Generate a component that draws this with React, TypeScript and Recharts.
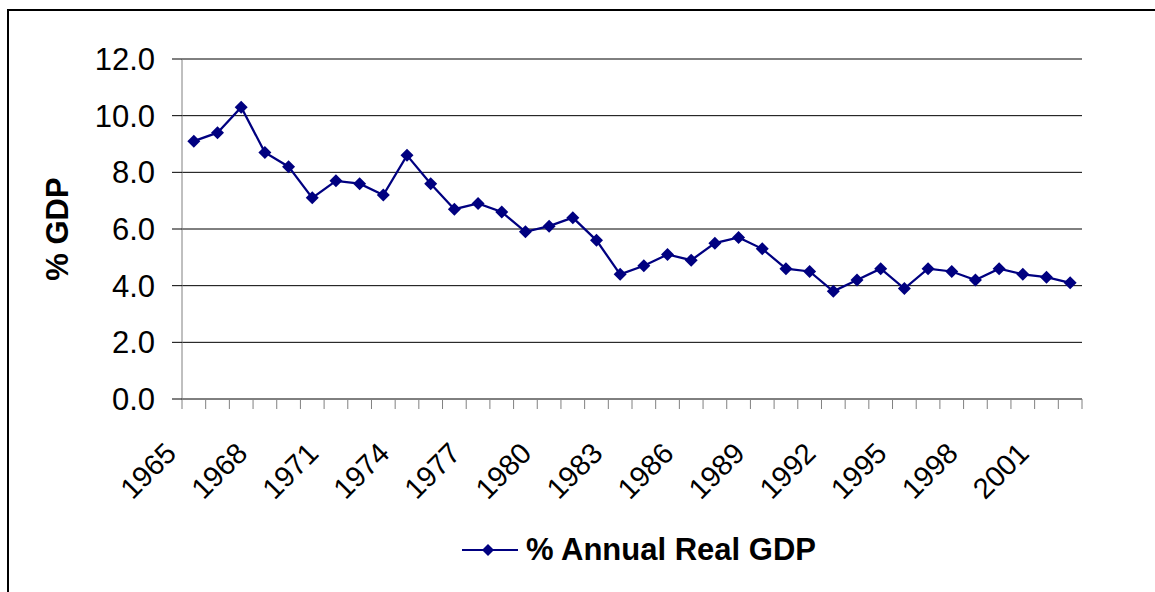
import React from 'react';
import { LineChart, Line, XAxis, YAxis, CartesianGrid, Legend } from 'recharts';

const YEARS = [
  1965, 1966, 1967, 1968, 1969, 1970, 1971, 1972, 1973, 1974,
  1975, 1976, 1977, 1978, 1979, 1980, 1981, 1982, 1983, 1984,
  1985, 1986, 1987, 1988, 1989, 1990, 1991, 1992, 1993, 1994,
  1995, 1996, 1997, 1998, 1999, 2000, 2001, 2002,
];
const GDP_GROWTH = [
  9.1, 9.4, 10.3, 8.7, 8.2, 7.1, 7.7, 7.6, 7.2, 8.6,
  7.6, 6.7, 6.9, 6.6, 5.9, 6.1, 6.4, 5.6, 4.4, 4.7,
  5.1, 4.9, 5.5, 5.7, 5.3, 4.6, 4.5, 3.8, 4.2, 4.6,
  3.9, 4.6, 4.5, 4.2, 4.6, 4.4, 4.3, 4.1,
];
const LABEL_YEARS = [1965, 1968, 1971, 1974, 1977, 1980, 1983, 1986, 1989, 1992, 1995, 1998, 2001];
const Y_TICKS = [0, 2, 4, 6, 8, 10, 12];

const NAVY = '#000080';
const FONT = '"Liberation Sans", Arial, sans-serif';

// categories sit between boundary ticks (Excel style), so x is index + 0.5
const data = YEARS.map((year, i) => ({ year, pos: i + 0.5, gdp: GDP_GROWTH[i] }));
const boundaries = [...YEARS.map((_, i) => i), YEARS.length];

function Diamond(props: any) {
  const { cx, cy } = props;
  if (cx == null || cy == null) return null;
  const r = 6.5;
  return <polygon points={`${cx},${cy - r} ${cx + r},${cy} ${cx},${cy + r} ${cx - r},${cy}`} fill={NAVY} />;
}

function YearTick(props: any) {
  const { x, y, payload } = props;
  const year = YEARS[payload.value];
  if (!LABEL_YEARS.includes(year)) return <g />;
  const tx = x - 4;
  const ty = y + 44;
  return (
    <text x={tx} y={ty} transform={`rotate(-45, ${tx}, ${ty})`} textAnchor="end" fontSize={29} fill="#000" fontFamily={FONT}>
      {year}
    </text>
  );
}

function YTitle(props: any) {
  const vb = props.viewBox || { x: 10, y: 48, height: 340 };
  const cx = vb.x + 38;
  const cy = vb.y + vb.height / 2;
  return (
    <text x={cx} y={cy} transform={`rotate(-90, ${cx}, ${cy})`} textAnchor="middle" dominantBaseline="central"
      fontSize={31} fontWeight="bold" fill="#000" fontFamily={FONT}>
      % GDP
    </text>
  );
}

function LegendBox() {
  return (
    <div style={{ display: 'flex', alignItems: 'center', height: 36, fontFamily: FONT }}>
      <svg width={56} height={20} style={{ display: 'block' }}>
        <line x1={0} y1={10} x2={56} y2={10} stroke={NAVY} strokeWidth={2} />
        <polygon points="26,4 32,10 26,16 20,10" fill={NAVY} />
      </svg>
      <span style={{ marginLeft: 8, fontSize: 31, fontWeight: 'bold', color: '#000', whiteSpace: 'nowrap' }}>
        % Annual Real GDP
      </span>
    </div>
  );
}

export default function App() {
  return (
    <div style={{ position: 'absolute', left: 7, top: 9, width: 1160, height: 600, border: '2px solid #000', background: '#fff', fontFamily: FONT }}>
      <LineChart width={1150} height={585} data={data} margin={{ top: 48, right: 77, left: 10, bottom: 77 }}>
        <CartesianGrid horizontal vertical={false} stroke="#000" />
        <XAxis
          type="number"
          dataKey="pos"
          domain={[0, YEARS.length]}
          ticks={boundaries}
          interval={0}
          height={120}
          tickSize={10}
          axisLine={{ stroke: '#808080' }}
          tickLine={{ stroke: '#808080' }}
          tick={<YearTick />}
        />
        <YAxis
          domain={[0, 12]}
          ticks={Y_TICKS}
          interval={0}
          width={163}
          tickSize={10}
          tickMargin={17}
          tickFormatter={(v: number) => v.toFixed(1)}
          tick={{ fontSize: 31, fill: '#000', fontFamily: FONT }}
          axisLine={{ stroke: '#808080' }}
          tickLine={{ stroke: '#000' }}
          label={{ content: (p: any) => <YTitle {...p} /> }}
        />
        <Legend
          layout="horizontal"
          verticalAlign="middle"
          align="center"
          wrapperStyle={{ top: 521, left: 453, width: 'auto' }}
          content={() => <LegendBox />}
        />
        <Line
          type="linear"
          dataKey="gdp"
          stroke={NAVY}
          strokeWidth={2.25}
          dot={<Diamond />}
          activeDot={false}
          isAnimationActive={false}
        />
      </LineChart>
    </div>
  );
}
